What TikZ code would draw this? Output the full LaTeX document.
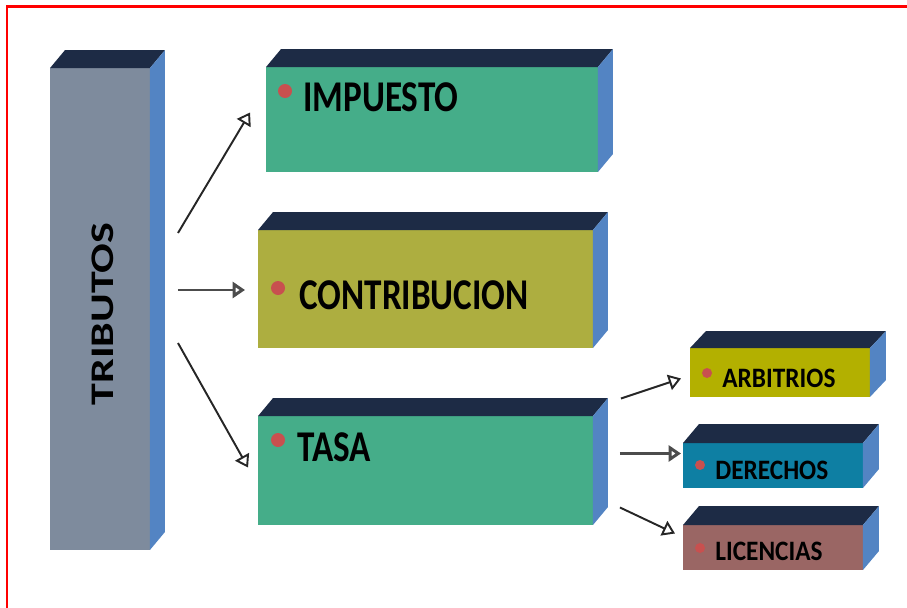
\documentclass[tikz,border=0pt]{standalone}
\usepackage{fontspec}
\setmainfont{Carlito}
\usepackage{graphicx}
\usetikzlibrary{calc,arrows.meta}

\definecolor{marino}{HTML}{1D2B45}
\definecolor{lateral}{HTML}{5384C3}
\definecolor{gris}{HTML}{7E8B9D}
\definecolor{verde}{HTML}{45AD89}
\definecolor{oliva}{HTML}{ADAE40}
\definecolor{amarillo}{HTML}{B3B000}
\definecolor{turquesa}{HTML}{0E7FA3}
\definecolor{malva}{HTML}{9A6664}
\definecolor{punto}{HTML}{C8504F}

\newcommand\grande[1]{\scalebox{0.8}[1]{\fontsize{25}{25}\selectfont\bfseries #1}}
\newcommand\chico[1]{\scalebox{0.9}[1]{\fontsize{16}{16}\selectfont\bfseries #1}}

\begin{document}
\begin{tikzpicture}[x=0.02cm,y=-0.02cm,
  caja/.style={inner sep=0,outer sep=0},
  txt/.style={anchor=west,inner sep=0},
  bala/.style={circle,fill=punto,inner sep=0,minimum size=#1},
  flecha/.style={-{Triangle[open,length=7pt,width=9pt]},line width=1.1pt,black!85}]
\useasboundingbox (0,0) rectangle (907,608);
\draw [red,line width=1.2pt] (7,608) -- (7,6.5) -- (907,6.5);

\node [caja,fill=gris,minimum width=2cm,minimum height=9.64cm] (trib) at (100,309) {};
\node [caja,fill=verde,minimum width=6.64cm,minimum height=2.1cm] (imp) at (432,119.5) {};
\node [caja,fill=oliva,minimum width=6.7cm,minimum height=2.36cm] (con) at (425.5,289) {};
\node [caja,fill=verde,minimum width=6.7cm,minimum height=2.18cm] (tasa) at (425.5,470.5) {};
\node [caja,fill=amarillo,minimum width=3.6cm,minimum height=0.98cm] (arb) at (780,372.5) {};
\node [caja,fill=turquesa,minimum width=3.6cm,minimum height=0.9cm] (der) at (773,465.5) {};
\node [caja,fill=malva,minimum width=3.6cm,minimum height=0.9cm] (lic) at (773,547.5) {};

% caras de arriba y del lado
\foreach \n/\dx/\dy in {trib/15/18,imp/15/18,con/15/18,tasa/15/18,arb/16/17,der/16/19,lic/16/19} {
  \fill [marino] (\n.north west) -- ($(\n.north west)+(\dx,-\dy)$)
    -- ($(\n.north east)+(\dx,-\dy)$) -- (\n.north east) -- cycle;
  \fill [lateral] (\n.north east) -- ($(\n.north east)+(\dx,-\dy)$)
    -- ($(\n.south east)+(\dx,-\dy)$) -- (\n.south east) -- cycle;
}

\node [rotate=90] (tribt) at ($(trib.center)+(3,5)$) {\scalebox{1}[0.75]{\fontsize{25}{25}\selectfont\bfseries TRIBUTOS}};

\node [bala=0.28cm] (impb) at ($(imp.north west)+(19,24)$) {};
\node [txt] (impt) at ($(impb)+(18,6)$) {\grande{IMPUESTO}};
\node [bala=0.28cm] (conb) at ($(con.north west)+(20,58)$) {};
\node [txt] (cont) at ($(conb)+(21,7)$) {\grande{CONTRIBUCION}};
\node [bala=0.28cm] (tasab) at ($(tasa.north west)+(20,24)$) {};
\node [txt] (tasat) at ($(tasab)+(19,7)$) {\grande{TASA}};
\node [bala=0.2cm] (arbb) at ($(arb.north west)+(17,25)$) {};
\node [txt] (arbt) at ($(arbb)+(15,5)$) {\chico{ARBITRIOS}};
\node [bala=0.2cm] (derb) at ($(der.north west)+(17,22)$) {};
\node [txt] (dert) at ($(derb)+(15,5)$) {\chico{DERECHOS}};
\node [bala=0.2cm] (licb) at ($(lic.north west)+(17,23)$) {};
\node [txt] (lict) at ($(licb)+(15,3)$) {\chico{LICENCIAS}};

\draw [flecha] ($(trib.east)+(28,-76)$) -- ($(imp.west)+(-16,-7)$);
\draw [flecha,line width=1.7pt,black!70] ($(trib.east)+(28,-19)$) -- ($(con.west)+(-13,1)$);
\draw [flecha] ($(trib.east)+(28,34)$) -- ($(tasa.west)+(-10,-3)$);
\draw [flecha] ($(tasa.east)+(28,-72)$) -- ($(arb.west)+(-9,6)$);
\draw [flecha,line width=1.7pt,black!70] ($(tasa.east)+(27,-17)$) -- ($(der.west)+(-2,-12)$);
\draw [flecha] ($(tasa.east)+(27,37)$) -- ($(lic.west)+(-8,-14)$);
\end{tikzpicture}
\end{document}
